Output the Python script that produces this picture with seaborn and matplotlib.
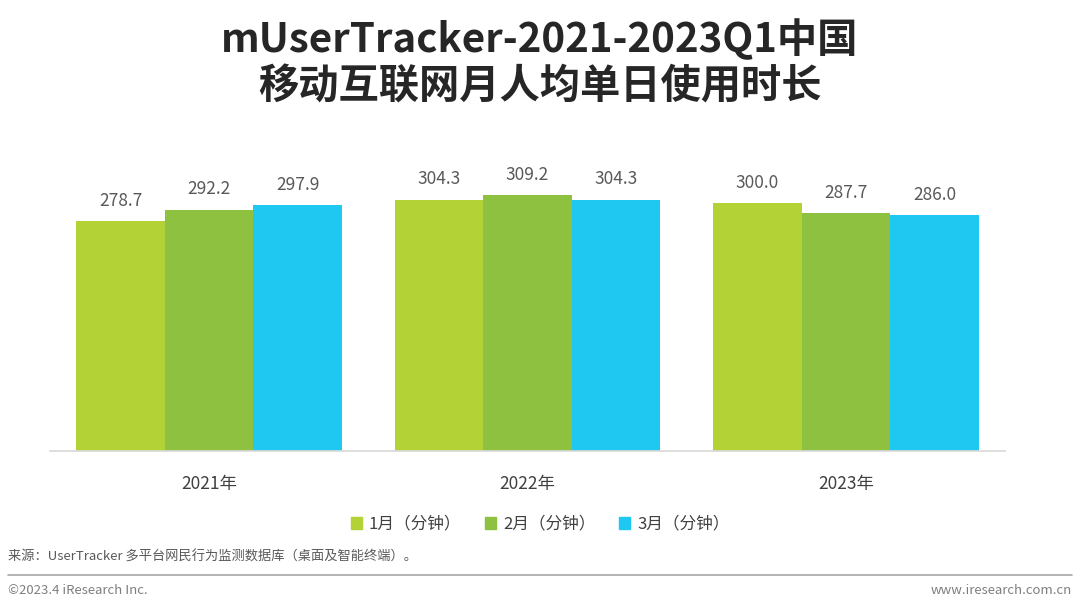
import seaborn as sns
import matplotlib.pyplot as plt
import pandas as pd

years = ['2021年', '2022年', '2023年']
months = ['1月（分钟）', '2月（分钟）', '3月（分钟）']
jan = [278.7, 304.3, 300.0]
feb = [292.2, 309.2, 287.7]
mar = [297.9, 304.3, 286.0]
colors = ['#B2D235', '#8DC13F', '#1EC8F0']

df = pd.DataFrame({
    'year': years * 3,
    'month': [months[0]] * 3 + [months[1]] * 3 + [months[2]] * 3,
    'value': jan + feb + mar,
})

sns.set_theme(style='white')
plt.rcParams['font.family'] = ['Noto Sans CJK SC', 'DejaVu Sans']

fig = plt.figure(figsize=(10.8, 6.1), dpi=100)
ax = fig.add_axes([50 / 1080, 1 - 451 / 610, 955 / 1080, 300 / 610])

sns.barplot(data=df, x='year', y='value', hue='month', palette=colors,
            width=0.835, saturation=1, linewidth=0, ax=ax, legend=False)

for c in ax.containers:
    ax.bar_label(c, fmt='%.1f', padding=8, fontsize=12.5, color='#595959')

ax.set_ylim(0, 363)
ax.set_xlim(-0.5, 2.5)
ax.set_xlabel('')
ax.set_ylabel('')
ax.set_yticks([])
for s in ['top', 'right', 'left']:
    ax.spines[s].set_visible(False)
ax.spines['bottom'].set_color('#D9D9D9')
ax.tick_params(axis='x', labelsize=12.5, colors='#404040', pad=17, length=0)

# legend
handles = [plt.Rectangle((0, 0), 1, 1, color=col) for col in colors]
fig.legend(handles, months, loc='center', bbox_to_anchor=(0.5, 1 - 524 / 610),
           ncol=3, frameon=False, fontsize=12, handlelength=0.7, handleheight=0.7,
           handletextpad=0.4, columnspacing=1.4, labelcolor='#404040')

fig.text(0.5, 1 - 40 / 610, 'mUserTracker-2021-2023Q1中国', ha='center', va='center',
         fontsize=29, fontweight='bold', color='#262626')
fig.text(0.5, 1 - 87 / 610, '移动互联网月人均单日使用时长', ha='center', va='center',
         fontsize=29, fontweight='bold', color='#262626')

fig.text(8 / 1080, 1 - 557 / 610, '来源：UserTracker 多平台网民行为监测数据库（桌面及智能终端）。',
         ha='left', va='center', fontsize=9.5, color='#595959')
fig.add_artist(plt.Line2D([8 / 1080, 1072 / 1080], [1 - 575 / 610] * 2,
                          color='#A6A6A6', lw=1.2))
fig.text(8 / 1080, 1 - 591 / 610, '©2023.4 iResearch Inc.', ha='left', va='center',
         fontsize=9.5, color='#7F7F7F')
fig.text(1072 / 1080, 1 - 591 / 610, 'www.iresearch.com.cn', ha='right', va='center',
         fontsize=9.5, color='#7F7F7F')

fig.savefig('out.png', dpi=100)
